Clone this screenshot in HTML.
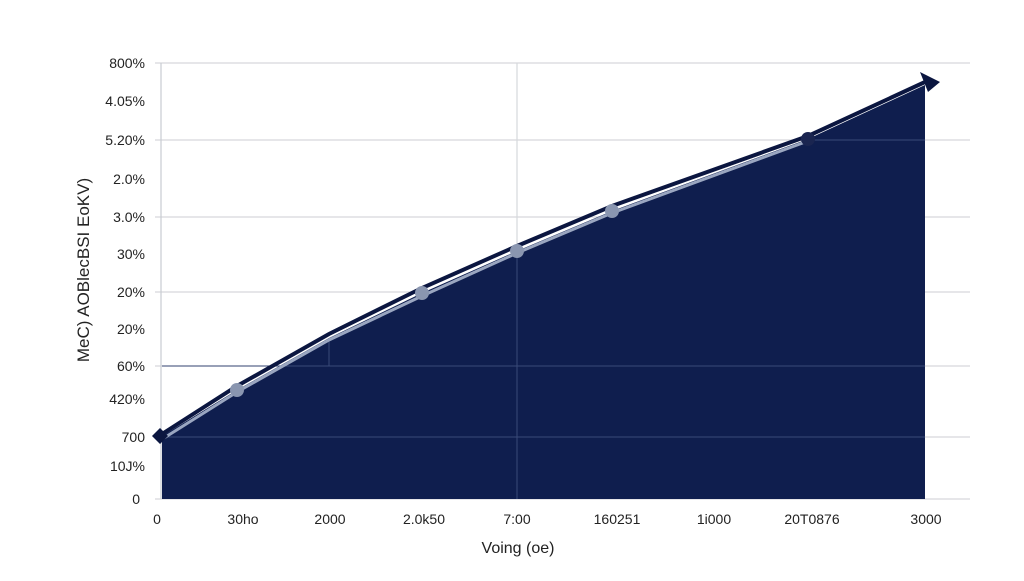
<!DOCTYPE html>
<html><head><style>body{margin:0;background:#fff}</style></head><body>
<svg width="1024" height="576" xmlns="http://www.w3.org/2000/svg" font-family="Liberation Sans, sans-serif">
<rect width="1024" height="576" fill="#fff"/>
<g stroke="#d6d8dc" stroke-width="1.2">
<line x1="155" y1="63" x2="970" y2="63"/><line x1="155" y1="140" x2="970" y2="140"/>
<line x1="155" y1="217" x2="970" y2="217"/><line x1="155" y1="292" x2="970" y2="292"/>
<line x1="155" y1="366" x2="970" y2="366"/><line x1="155" y1="437" x2="970" y2="437"/>
<line x1="155" y1="499" x2="970" y2="499"/>
<line x1="517" y1="63" x2="517" y2="499"/>
</g>
<line x1="161" y1="63" x2="161" y2="499" stroke="#c8ccd2" stroke-width="1.2"/>
<polygon points="162,436 237,390 329,338 422,293 517,251 612,211 808,139 925,85 925,499 162,499" fill="#0f1e4e"/>
<g stroke="#3a4a78" stroke-width="1"><line x1="162" y1="437" x2="925" y2="437"/><line x1="162" y1="366" x2="925" y2="366"/><line x1="329" y1="338" x2="329" y2="366"/><line x1="517" y1="251" x2="517" y2="499"/><line x1="808" y1="140" x2="925" y2="140"/></g>
<polyline points="162,434 237,386 329,334 422,288 517,246 612,206 808,136 925,82" fill="none" stroke="#0b1640" stroke-width="4"/>
<polyline points="164,438 237,392 329,340 422,296 517,253 612,213 808,141" fill="none" stroke="#9aa6c0" stroke-width="3"/>
<polygon points="920,72 940,82 928,92" fill="#0b1640"/>
<polygon points="160,428 168,436 160,444 152,436" fill="#0b1640"/>
<g fill="#8a96b0"><circle cx="237" cy="390" r="7"/><circle cx="422" cy="293" r="7"/><circle cx="517" cy="251" r="7"/><circle cx="612" cy="211" r="7"/></g>
<circle cx="808" cy="139" r="7" fill="#1a2550"/>
<g font-size="14" fill="#222" text-anchor="end">
<text x="145" y="68">800%</text><text x="145" y="106">4.05%</text><text x="145" y="145">5.20%</text>
<text x="145" y="184">2.0%</text><text x="145" y="222">3.0%</text><text x="145" y="259">30%</text>
<text x="145" y="297">20%</text><text x="145" y="334">20%</text><text x="145" y="371">60%</text>
<text x="145" y="404">420%</text><text x="145" y="442">700</text><text x="145" y="471">10J%</text>
<text x="140" y="504">0</text></g>
<g font-size="14" fill="#222" text-anchor="middle">
<text x="157" y="524">0</text><text x="243" y="524">30ho</text><text x="330" y="524">2000</text>
<text x="424" y="524">2.0k50</text><text x="517" y="524">7:00</text><text x="617" y="524">160251</text>
<text x="714" y="524">1i000</text><text x="812" y="524">20T0876</text><text x="926" y="524">3000</text>
<text x="518" y="553" font-size="16">Voing (oe)</text></g>
<text transform="translate(89,270) rotate(-90)" font-size="17" fill="#222" text-anchor="middle">MeC) AOBlecBSI EoKV)</text>
</svg>
</body></html>
